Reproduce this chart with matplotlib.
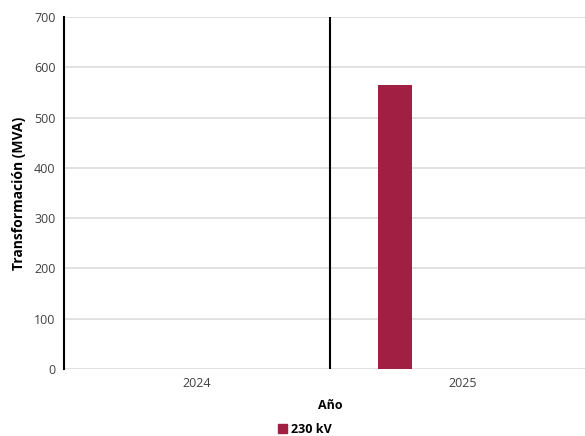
import numpy as np
import matplotlib
matplotlib.use('Agg')
import matplotlib.pyplot as plt
from matplotlib.patches import Patch

plt.rcParams['font.family'] = ['Open Sans', 'DejaVu Sans']

years = ['2024', '2025']
serie_230 = [0, 565]
etiqueta = '230 kV'
color = '#A21F44'

fig = plt.figure(figsize=(5.85, 4.36), dpi=100)
ax = fig.add_axes([64/585, 1 - 369/436, 532/585, 352/436])

x = np.arange(len(years))
ax.bar(x - 0.256, serie_230, width=0.128, color=color, zorder=3)

ax.set_xlim(-0.5, 1.5)
ax.set_ylim(0, 700)
ax.set_yticks(range(0, 701, 100))
ax.set_xticks(x)
ax.set_xticklabels(years)
ax.yaxis.grid(True, color='#DCDCDC', lw=1.2, zorder=0)
ax.axvline(0.5, color='black', lw=1.5, zorder=4)

for s in ['top', 'right', 'bottom']:
    ax.spines[s].set_visible(False)
ax.spines['left'].set_color('black')
ax.spines['left'].set_linewidth(1.5)
ax.spines['left'].set_zorder(5)
ax.tick_params(axis='both', length=0, labelsize=9, colors='#404040', pad=6)

ax.set_ylabel('Transformación (MVA)', fontsize=10, fontweight='bold', labelpad=6)
ax.set_xlabel('Año', fontsize=9, fontweight='bold', labelpad=6)

fig.legend(handles=[Patch(color=color, label=etiqueta)], loc='center',
           bbox_to_anchor=(305/585, 1 - 429/436), frameon=False,
           prop={'weight': 'bold', 'size': 9}, handlelength=0.7, handleheight=0.7,
           handletextpad=0.3, borderpad=0.1)

fig.savefig('out.png', dpi=100)
